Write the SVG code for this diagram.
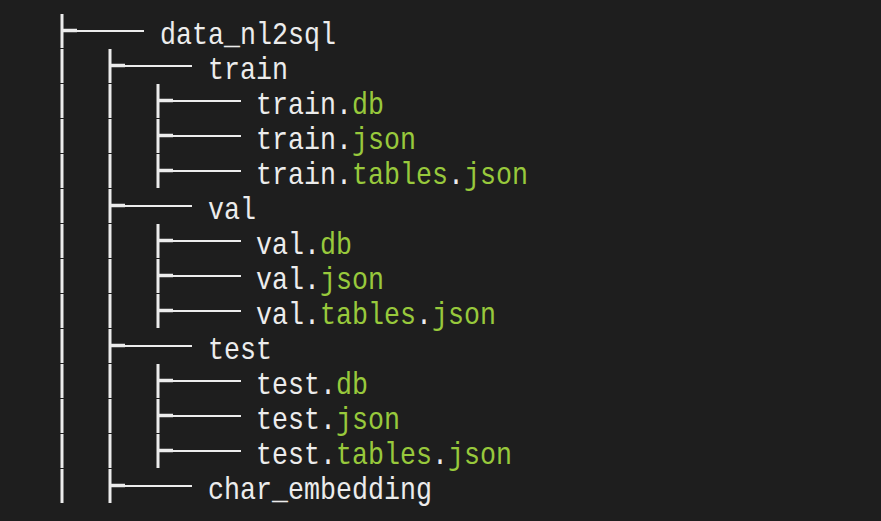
<svg xmlns="http://www.w3.org/2000/svg" width="881" height="521" viewBox="0 0 881 521">
<style>
.v{stroke:#ececec;stroke-width:3;fill:none}
.h{stroke:#ececec;stroke-width:2.2;fill:none}
.s{stroke:#ececec;stroke-width:3.5;fill:none}
text{font-family:"Liberation Mono","DejaVu Sans Mono",monospace;font-size:32px;fill:#ececec}
.g{fill:#98c93c}
</style>
<rect width="881" height="521" fill="#1e1e1e"/>
<g id="connectors">
<path class="v" d="M62 14V48M62 49V83M62 84V118M62 119V153M62 154V188M62 189V223M62 224V258M62 259V293M62 294V328M62 329V363M62 364V398M62 399V433M62 434V468M62 469V503"/>
<path class="v" d="M110 49V83M110 84V118M110 119V153M110 154V188M110 189V223M110 224V258M110 259V293M110 294V328M110 329V363M110 364V398M110 399V433M110 434V468M110 469V503"/>
<path class="v" d="M158 84V118M158 119V153M158 154V188M158 224V258M158 259V293M158 294V328M158 364V398M158 399V433M158 434V468"/>
<path class="s" d="M62 30.5H77M110 65.5H125M110 205.5H125M110 345.5H125M110 485.5H125M158 100.5H173M158 135.5H173M158 170.5H173M158 240.5H173M158 275.5H173M158 310.5H173M158 380.5H173M158 415.5H173M158 450.5H173"/>
<path class="h" d="M62 31H144M110 66H192M110 206H192M110 346H192M110 486H192M158 101H241M158 136H241M158 171H241M158 241H241M158 276H241M158 311H241M158 381H241M158 416H241M158 451H241"/>
</g>
<g transform="scale(0.83333 1)">
<g id="data_nl2sql"><text x="192" y="44">data_nl2sql</text></g>
<g id="train"><text x="249.6" y="79">train</text></g>
<g id="train_db"><text x="307.2" y="114">train.<tspan class="g">db</tspan></text></g>
<g id="train_json"><text x="307.2" y="149">train.<tspan class="g">json</tspan></text></g>
<g id="train_tables_json"><text x="307.2" y="184">train.<tspan class="g">tables</tspan>.<tspan class="g">json</tspan></text></g>
<g id="val"><text x="249.6" y="219">val</text></g>
<g id="val_db"><text x="307.2" y="254">val.<tspan class="g">db</tspan></text></g>
<g id="val_json"><text x="307.2" y="289">val.<tspan class="g">json</tspan></text></g>
<g id="val_tables_json"><text x="307.2" y="324">val.<tspan class="g">tables</tspan>.<tspan class="g">json</tspan></text></g>
<g id="test"><text x="249.6" y="359">test</text></g>
<g id="test_db"><text x="307.2" y="394">test.<tspan class="g">db</tspan></text></g>
<g id="test_json"><text x="307.2" y="429">test.<tspan class="g">json</tspan></text></g>
<g id="test_tables_json"><text x="307.2" y="464">test.<tspan class="g">tables</tspan>.<tspan class="g">json</tspan></text></g>
<g id="char_embedding"><text x="249.6" y="499">char_embedding</text></g>
</g>
</svg>
